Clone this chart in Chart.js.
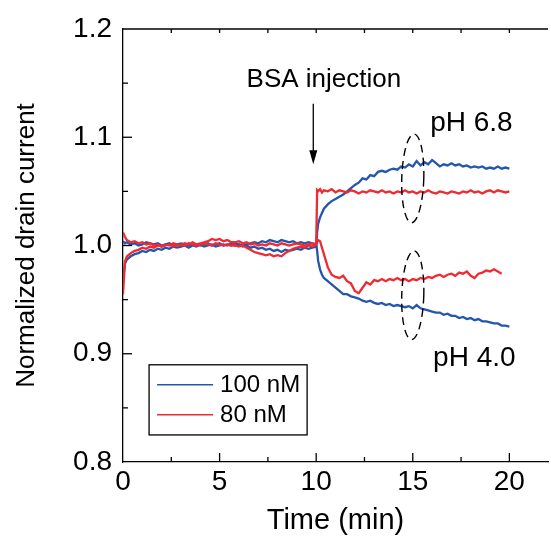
<!DOCTYPE html>
<html>
<head>
<meta charset="utf-8">
<script src="https://cdn.jsdelivr.net/npm/chart.js@4.4.0/dist/chart.umd.min.js"></script>
<style>
  body { margin: 0; background: #fff; }
  #wrap { width: 551px; height: 539px; }
</style>
</head>
<body>
<div id="wrap"><canvas id="myChart" width="551" height="539"></canvas></div>
<script>
// time axis (min), shared by all four traces
const times = [
  0, 0.1, 0.2, 0.4, 0.6, 0.8, 1.0, 1.2, 1.4, 1.6,
  1.8, 2.0, 2.2, 2.4, 2.6, 2.8, 3.0, 3.2, 3.4, 3.6,
  3.8, 4.0, 4.2, 4.4, 4.6, 4.8, 5.0, 5.2, 5.4, 5.6,
  5.8, 6.0, 6.2, 6.4, 6.6, 6.8, 7.0, 7.2, 7.4, 7.6,
  7.8, 8.0, 8.2, 8.4, 8.6, 8.8, 9.0, 9.2, 9.4, 9.6,
  9.8, 10.0, 10.05, 10.1, 10.2, 10.3, 10.4, 10.6, 10.8, 11.0,
  11.2, 11.4, 11.6, 11.8, 12.0, 12.2, 12.4, 12.6, 12.8, 13.0,
  13.2, 13.4, 13.6, 13.8, 14.0, 14.2, 14.4, 14.6, 14.8, 15.0,
  15.2, 15.4, 15.6, 15.8, 16.0, 16.2, 16.4, 16.6, 16.8, 17.0,
  17.2, 17.4, 17.6, 17.8, 18.0, 18.2, 18.4, 18.6, 18.8, 19.0,
  19.2, 19.4, 19.6, 19.8, 20.0
];

// 100 nM, pH 6.8
const blue68 = [
  0.968, 0.983, 0.987, 0.990, 0.992, 0.993, 0.995, 0.994, 0.996, 0.995,
  0.997, 0.996, 0.998, 0.997, 0.999, 0.998, 0.999, 1.000, 0.998, 1.000,
  0.999, 1.001, 0.999, 1.000, 1.001, 0.999, 1.000, 1.001, 1.000, 1.002,
  1.000, 1.001, 0.999, 1.000, 0.998, 0.999, 0.997, 0.998, 0.996, 0.997,
  0.995, 0.996, 0.994, 0.996, 0.995, 0.996, 0.997, 0.996, 0.998, 0.997,
  0.998, 0.999, 1.012, 1.020, 1.026, 1.030, 1.034, 1.038, 1.041, 1.043,
  1.045, 1.047, 1.050, 1.053, 1.056, 1.058, 1.062, 1.061, 1.065, 1.064,
  1.068, 1.069, 1.068, 1.070, 1.071, 1.070, 1.073, 1.072, 1.075, 1.073,
  1.078, 1.074, 1.077, 1.075, 1.079, 1.076, 1.073, 1.075, 1.074, 1.076,
  1.074, 1.075, 1.073, 1.074, 1.072, 1.073, 1.072, 1.073, 1.071, 1.072,
  1.071, 1.073, 1.071, 1.072, 1.071
];

// 80 nM, pH 6.8
const red68 = [
  1.012, 1.008, 1.005, 1.003, 1.004, 1.002, 1.003, 1.001, 1.002, 1.000,
  1.001, 0.999, 1.001, 1.000, 1.002, 1.001, 1.000, 1.002, 1.001, 1.003,
  1.001, 1.002, 1.003, 1.004, 1.006, 1.005, 1.006, 1.004, 1.005, 1.003,
  1.003, 1.004, 1.002, 1.003, 1.001, 1.002, 1.000, 1.001, 1.000, 1.002,
  1.001, 1.000, 1.002, 1.001, 1.000, 1.001, 1.002, 1.001, 1.000, 1.001,
  1.002, 1.001, 1.051, 1.050, 1.052, 1.049, 1.051, 1.050, 1.052, 1.049,
  1.051, 1.050, 1.049, 1.051, 1.050, 1.048, 1.050, 1.049, 1.051, 1.050,
  1.049, 1.051, 1.049, 1.050, 1.048, 1.050, 1.049, 1.051, 1.049, 1.050,
  1.048, 1.050, 1.049, 1.051, 1.049, 1.048, 1.050, 1.049, 1.048, 1.050,
  1.049, 1.048, 1.050, 1.049, 1.051, 1.049, 1.050, 1.048, 1.050, 1.051,
  1.049, 1.051, 1.050, 1.049, 1.050
];

// 100 nM, pH 4.0
const blue40 = [
  1.004, 1.002, 1.003, 1.001, 1.002, 1.000, 1.001, 1.003, 1.002, 1.001,
  1.002, 1.000, 1.001, 1.002, 1.000, 1.001, 1.002, 1.001, 1.000, 1.002,
  1.001, 1.000, 1.001, 1.002, 1.000, 1.001, 1.002, 1.000, 1.001, 1.000,
  1.002, 1.001, 1.000, 1.001, 1.002, 1.003, 1.002, 1.004, 1.003, 1.005,
  1.004, 1.003, 1.005, 1.004, 1.003, 1.004, 1.002, 1.003, 1.002, 1.003,
  1.002, 1.001, 0.995, 0.986, 0.978, 0.973, 0.970, 0.967, 0.964, 0.961,
  0.958, 0.955, 0.955, 0.953, 0.952, 0.951, 0.949, 0.948, 0.949, 0.947,
  0.946, 0.947, 0.945, 0.946, 0.944, 0.945, 0.944, 0.943, 0.944, 0.942,
  0.945, 0.942, 0.941, 0.940, 0.939, 0.938, 0.938, 0.936, 0.937, 0.935,
  0.935, 0.933, 0.934, 0.932, 0.933, 0.931, 0.932, 0.930, 0.930, 0.929,
  0.928, 0.928, 0.926, 0.926, 0.925
];

// 80 nM, pH 4.0
const red40 = [
  0.955, 0.985, 0.990, 0.993, 0.995, 0.996, 0.998, 0.997, 0.999, 0.998,
  1.000, 0.999, 1.000, 1.001, 0.999, 1.000, 1.001, 1.000, 1.002, 1.001,
  1.000, 1.001, 1.002, 1.001, 1.000, 1.002, 1.001, 1.000, 1.001, 1.000,
  1.000, 0.999, 1.000, 0.998, 0.996, 0.994, 0.993, 0.992, 0.991, 0.992,
  0.990, 0.991, 0.990, 0.993, 0.995, 0.997, 0.998, 0.999, 0.998, 1.000,
  0.999, 1.001, 1.003, 1.005, 1.004, 0.998, 0.992, 0.980, 0.973, 0.971,
  0.970, 0.972, 0.967, 0.965, 0.958, 0.956, 0.961, 0.966, 0.964, 0.968,
  0.967, 0.969, 0.967, 0.969, 0.968, 0.970, 0.968, 0.969, 0.967, 0.969,
  0.968, 0.970, 0.969, 0.971, 0.970, 0.972, 0.973, 0.971, 0.973, 0.974,
  0.972, 0.975, 0.974, 0.976, 0.972, 0.970, 0.974, 0.975, 0.977, 0.976,
  0.978, 0.976, 0.974, null, null
];

const legendLabels = ['100 nM', '80 nM'];
const BLUE = '#2456ad';
const RED = '#ee2a32';

function pts(vals) {
  return times.map((t, i) => ({ x: t, y: vals[i] }));
}

const FONT = "'Liberation Sans', Arial, sans-serif";
Chart.defaults.font.family = FONT;
Chart.defaults.color = '#000';

// inward ticks, top frame, labels, arrow, ellipses and the boxed legend
const decor = {
  id: 'decor',
  afterDraw(chart) {
    const ctx = chart.ctx;
    const xs = chart.scales.x, ys = chart.scales.y;
    const { left, right, top, bottom } = chart.chartArea;
    ctx.save();
    ctx.strokeStyle = '#000';
    ctx.fillStyle = '#000';
    ctx.lineWidth = 1.3;

    ctx.beginPath();
    ctx.moveTo(left, top); ctx.lineTo(right, top);
    ctx.stroke();

    // x ticks (bottom + top)
    for (let v = 0; v <= 22; v += 2.5) {
      const px = xs.getPixelForValue(v);
      if (px <= left + 1 || px > right) continue;
      const major = v % 5 === 0;
      ctx.beginPath();
      ctx.moveTo(px, bottom); ctx.lineTo(px, bottom - (major ? 9 : 5));
      ctx.moveTo(px, top); ctx.lineTo(px, top + 4);
      ctx.stroke();
    }
    // y ticks
    for (let k = 1; k < 8; k++) {
      const v = 0.8 + k * 0.05;
      const py = ys.getPixelForValue(v);
      const major = k % 2 === 0;
      ctx.beginPath();
      ctx.moveTo(left, py); ctx.lineTo(left + (major ? 9 : 5), py);
      ctx.stroke();
    }

    // BSA injection label and arrow
    ctx.font = '26px ' + FONT;
    ctx.textAlign = 'center';
    ctx.textBaseline = 'alphabetic';
    ctx.fillText('BSA injection', xs.getPixelForValue(10.4), ys.getPixelForValue(1.146));
    const ax = xs.getPixelForValue(9.85);
    const ay0 = ys.getPixelForValue(1.131), ay1 = ys.getPixelForValue(1.075);
    ctx.beginPath();
    ctx.moveTo(ax, ay0); ctx.lineTo(ax, ay1 - 12);
    ctx.stroke();
    ctx.beginPath();
    ctx.moveTo(ax, ay1); ctx.lineTo(ax - 4, ay1 - 14); ctx.lineTo(ax + 4, ay1 - 14);
    ctx.closePath(); ctx.fill();

    // pH labels
    ctx.font = '28px ' + FONT;
    ctx.textAlign = 'left';
    ctx.fillText('pH 6.8', xs.getPixelForValue(15.9), ys.getPixelForValue(1.106));
    ctx.fillText('pH 4.0', xs.getPixelForValue(16.05), ys.getPixelForValue(0.889));

    // dashed ellipses
    ctx.setLineDash([8, 5]);
    ctx.lineWidth = 1.4;
    const ex = xs.getPixelForValue(15.0);
    const rx = xs.getPixelForValue(15.57) - ex;
    [1.062, 0.954].forEach(c => {
      const ey = ys.getPixelForValue(c);
      const ry = ey - ys.getPixelForValue(c + 0.041);
      ctx.beginPath();
      ctx.ellipse(ex, ey, rx, ry, 0.03, 0, Math.PI * 2);
      ctx.stroke();
    });
    ctx.setLineDash([]);

    // legend box
    const bx0 = xs.getPixelForValue(1.35), bx1 = xs.getPixelForValue(9.53);
    const by0 = ys.getPixelForValue(0.8898), by1 = ys.getPixelForValue(0.825);
    ctx.fillStyle = '#fff';
    ctx.fillRect(bx0, by0, bx1 - bx0, by1 - by0);
    ctx.lineWidth = 1.3;
    ctx.strokeStyle = '#000';
    ctx.strokeRect(bx0, by0, bx1 - bx0, by1 - by0);
    ctx.font = '24px ' + FONT;
    ctx.textBaseline = 'middle';
    [BLUE, RED].forEach((col, i) => {
      const ly = by0 + 20 + i * 30;
      ctx.strokeStyle = col;
      ctx.lineWidth = 1.6;
      ctx.beginPath();
      ctx.moveTo(bx0 + 8, ly); ctx.lineTo(bx0 + 64, ly);
      ctx.stroke();
      ctx.fillStyle = '#000';
      ctx.fillText(legendLabels[i], bx0 + 71, ly + 1);
    });
    ctx.restore();
  }
};

const ctx = document.getElementById('myChart').getContext('2d');

new Chart(ctx, {
  type: 'line',
  data: {
    datasets: [
      { label: '80 nM pH 6.8', data: pts(red68), borderColor: RED },
      { label: '80 nM pH 4.0', data: pts(red40), borderColor: RED },
      { label: '100 nM pH 6.8', data: pts(blue68), borderColor: BLUE },
      { label: '100 nM pH 4.0', data: pts(blue40), borderColor: BLUE }
    ]
  },
  options: {
    responsive: false,
    animation: false,
    elements: {
      point: { radius: 0 },
      line: { borderWidth: 2.3, tension: 0, fill: false }
    },
    layout: { padding: { top: 29, right: 3, left: 0, bottom: 0 } },
    plugins: { legend: { display: false }, tooltip: { enabled: false } },
    scales: {
      x: {
        type: 'linear',
        min: 0,
        max: 22,
        grid: { display: false, drawTicks: false },
        border: { display: true, color: '#000', width: 1.3 },
        ticks: { stepSize: 5, includeBounds: false, font: { size: 28 }, padding: 3, maxRotation: 0 },
        title: { display: true, text: 'Time (min)', font: { size: 29 }, padding: { top: 0, bottom: 1 } },
        afterFit(scale) { scale.height = 77; }
      },
      y: {
        min: 0.8,
        max: 1.2,
        grid: { display: false, drawTicks: false },
        border: { display: true, color: '#000', width: 1.3 },
        ticks: { stepSize: 0.1, font: { size: 28 }, padding: 11, callback: v => v.toFixed(1) },
        title: { display: true, text: 'Normalized drain current', font: { size: 26 }, padding: { top: 11, bottom: 0 } },
        afterFit(scale) { scale.width = 123; }
      }
    }
  },
  plugins: [decor]
});
</script>
</body>
</html>
